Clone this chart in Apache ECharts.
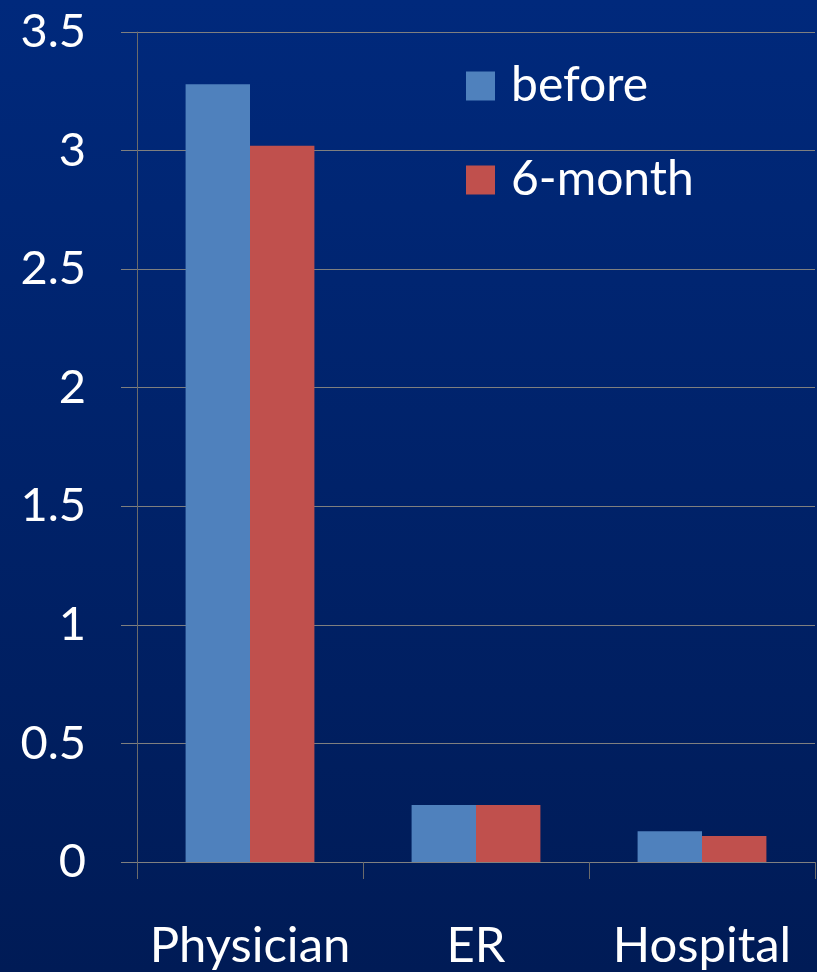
<!DOCTYPE html>
<html>
<head>
<meta charset="utf-8">
<script src="https://cdn.jsdelivr.net/npm/echarts@6/dist/echarts.min.js"></script>
<style>
html,body{margin:0;padding:0;background:#001f60;}
#chart{width:817px;height:972px;}
</style>
</head>
<body>
<div id="chart"></div>
<script>
const categories = ['Physician', 'ER', 'Hospital'];
const beforeValues = [3.28, 0.24, 0.13];
const sixMonthValues = [3.02, 0.24, 0.11];
const seriesNames = ['before', '6-month'];

const chart = echarts.init(document.getElementById('chart'));
const font = 'Lato, "Open Sans", sans-serif';
chart.setOption({
  animation: false,
  backgroundColor: new echarts.graphic.LinearGradient(0, 0, 0, 1, [
    {offset: 0, color: '#00297c'},
    {offset: 1, color: '#001b56'}
  ]),
  grid: {left: 137, right: 2, top: 32, bottom: 110, containLabel: false},
  legend: {
    orient: 'vertical',
    left: 466, top: 62, padding: 0,
    itemWidth: 29, itemHeight: 29, itemGap: 46,
    icon: 'rect',
    textStyle: {color: '#ffffff', fontSize: 48, fontFamily: font, padding: [0,0,0,11]},
    data: seriesNames
  },
  xAxis: {
    type: 'category',
    data: categories,
    axisLine: {show: true, lineStyle: {color: '#808080', width: 1}},
    axisTick: {show: true, length: 17, lineStyle: {color: '#6b6b6b'}},
    axisLabel: {color: '#ffffff', fontSize: 49, fontFamily: font, margin: 60, interval: 0}
  },
  yAxis: {
    type: 'value',
    min: 0, max: 3.5, interval: 0.5,
    axisLine: {show: true, lineStyle: {color: '#6b6b6b', width: 1}},
    axisTick: {show: true, inside: false, length: 16, lineStyle: {color: '#7f7f7f'}},
    splitLine: {show: true, lineStyle: {color: '#7f7f7f', width: 1}},
    axisLabel: {color: '#ffffff', fontSize: 47, fontFamily: font, margin: 51,
      formatter: v => String(v)}
  },
  series: [
    {name: seriesNames[0], type: 'bar', data: beforeValues, barGap: '0%', barCategoryGap: '43%',
     itemStyle: {color: '#4f81bd'}},
    {name: seriesNames[1], type: 'bar', data: sixMonthValues, barGap: '0%', barCategoryGap: '43%',
     itemStyle: {color: '#c0504d'}}
  ]
});
</script>
</body>
</html>
